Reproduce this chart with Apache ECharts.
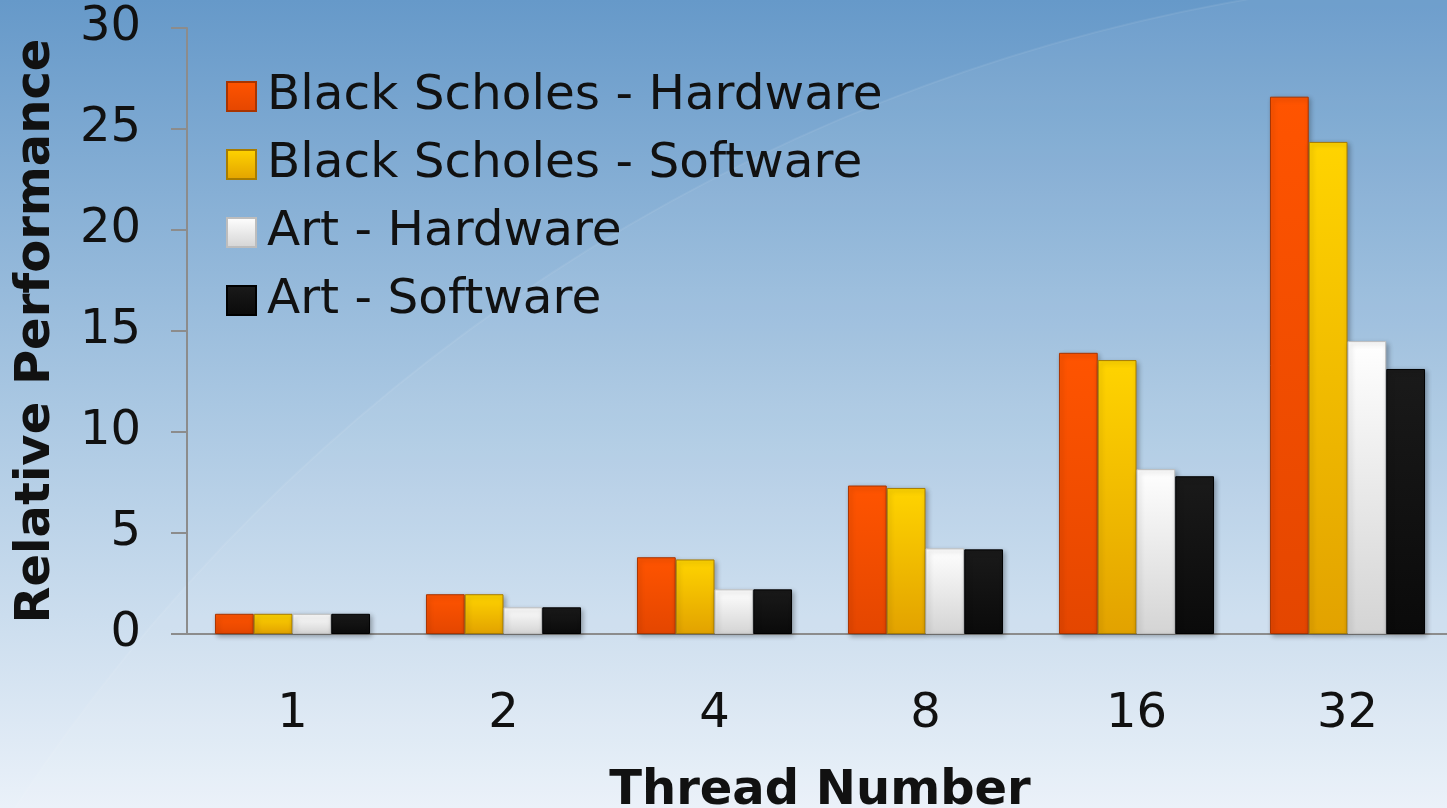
<!DOCTYPE html>
<html>
<head>
<meta charset="utf-8">
<script src="https://cdn.jsdelivr.net/npm/echarts@6/dist/echarts.min.js"></script>
<style>
html,body{margin:0;padding:0;width:1447px;height:808px;overflow:hidden;}
#chart{width:1447px;height:808px;}
</style>
</head>
<body>
<div id="chart"></div>
<script>
const categories = ['1', '2', '4', '8', '16', '32'];
const seriesNames = ['Black Scholes - Hardware', 'Black Scholes - Software', 'Art - Hardware', 'Art - Software'];
const bsHardware = [1, 1.97, 3.8, 7.35, 13.92, 26.6];
const bsSoftware = [1, 1.97, 3.69, 7.23, 13.56, 24.36];
const artHardware = [1, 1.32, 2.21, 4.24, 8.16, 14.5];
const artSoftware = [1, 1.32, 2.21, 4.19, 7.81, 13.12];
const yTicks = { min: 0, max: 30, interval: 5 };

const FONT = '"DejaVu Sans", Verdana, sans-serif';

function grad(top, bottom) {
  return new echarts.graphic.LinearGradient(0, 0, 0, 1, [
    { offset: 0, color: top },
    { offset: 1, color: bottom }
  ]);
}

const styles = [
  { color: grad('#ff5400', '#e44600'), borderColor: '#a83400' },
  { color: grad('#ffd400', '#e2a200'), borderColor: '#a87c00' },
  { color: grad('#ffffff', '#d4d4d4'), borderColor: '#bdbdbd' },
  { color: grad('#1a1a1a', '#0a0a0a'), borderColor: '#000000' }
];
const values = [bsHardware, bsSoftware, artHardware, artSoftware];

const chart = echarts.init(document.getElementById('chart'), null, { renderer: 'canvas' });

const option = {
  backgroundColor: new echarts.graphic.LinearGradient(0, 0, 0, 1, [
    { offset: 0, color: '#6699c9' },
    { offset: 0.5, color: '#a9c7e2' },
    { offset: 1, color: '#eaf1f9' }
  ]),
  animation: false,
  graphic: [
    {
      type: 'circle',
      shape: { cx: 1564, cy: 1825, r: 1853 },
      style: { fill: 'rgba(255,255,255,0.06)', stroke: 'rgba(255,255,255,0.07)', lineWidth: 2 },
      silent: true,
      z: -10
    }
  ],
  textStyle: { fontFamily: FONT },
  legend: {
    orient: 'vertical',
    left: 221,
    top: 67,
    itemWidth: 29,
    itemHeight: 29,
    itemGap: 19,
    icon: 'rect',
    data: seriesNames,
    textStyle: {
      fontFamily: FONT,
      fontSize: 48.5,
      lineHeight: 48,
      color: '#111111',
      padding: [0, 0, 0, 6]
    }
  },
  grid: { left: 187, top: 28, width: 1266, height: 606, outerBoundsMode: 'none', containLabel: false },
  xAxis: {
    type: 'category',
    data: categories,
    name: 'Thread Number',
    nameLocation: 'middle',
    nameGap: 134,
    nameTextStyle: { fontFamily: FONT, fontSize: 48, fontWeight: 'bold', color: '#111111' },
    axisLine: { lineStyle: { color: '#8c8c8c', width: 2 } },
    axisTick: { length: 16, lineStyle: { color: '#8c8c8c', width: 2 } },
    axisLabel: { fontFamily: FONT, fontSize: 48, color: '#111111', margin: 57 }
  },
  yAxis: {
    type: 'value',
    min: yTicks.min,
    max: yTicks.max,
    interval: yTicks.interval,
    name: 'Relative Performance',
    nameLocation: 'middle',
    nameGap: 126,
    nameRotate: 90,
    nameTextStyle: { fontFamily: FONT, fontSize: 48, fontWeight: 'bold', color: '#111111' },
    splitLine: { show: false },
    axisLine: { show: true, lineStyle: { color: '#8c8c8c', width: 2 } },
    axisTick: { show: true, length: 16, lineStyle: { color: '#8c8c8c', width: 2 } },
    axisLabel: { fontFamily: FONT, fontSize: 48, color: '#111111', margin: 46 }
  },
  series: seriesNames.map((name, i) => ({
    name: name,
    type: 'bar',
    data: values[i],
    barGap: '0%',
    barCategoryGap: '26.5%',
    itemStyle: {
      color: styles[i].color,
      borderColor: styles[i].borderColor,
      borderWidth: 1,
      shadowColor: 'rgba(0,0,0,0.3)',
      shadowBlur: 5,
      shadowOffsetX: 2,
      shadowOffsetY: 2
    }
  }))
};

chart.setOption(option);
</script>
</body>
</html>
